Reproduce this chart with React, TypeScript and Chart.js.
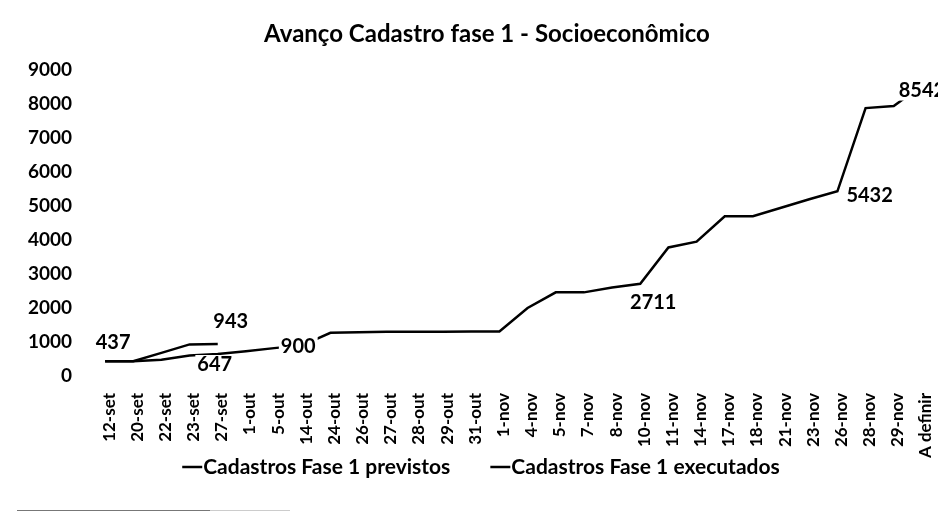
import React, { useEffect, useRef } from "react";
import { Chart, registerables } from "chart.js";

Chart.register(...registerables);

const categories = [
  "12-set", "20-set", "22-set", "23-set", "27-set", "1-out", "5-out", "14-out",
  "24-out", "26-out", "27-out", "28-out", "29-out", "31-out", "1-nov", "4-nov",
  "5-nov", "7-nov", "8-nov", "10-nov", "11-nov", "14-nov", "17-nov", "18-nov",
  "21-nov", "23-nov", "26-nov", "28-nov", "29-nov", "A definir",
];

const previstos = [
  437, 437, 480, 600, 647, 730, 820, 900, 1270, 1290, 1300, 1300, 1300, 1310,
  1310, 2000, 2460, 2460, 2600, 2711, 3780, 3950, 4700, 4700, 4950, 5200, 5432,
  7880, 7940, 8542,
];

const executados = [437, 437, 680, 930, 943];

const yTicks = [0, 1000, 2000, 3000, 4000, 5000, 6000, 7000, 8000, 9000];

const seriesNames = ["Cadastros Fase 1 previstos", "Cadastros Fase 1 executados"];
const chartTitle = "Avanço Cadastro fase 1 - Socioeconômico";

// which points carry a data label (dataset, index, placement)
const labelSpecs = [
  { ds: 0, i: 0, pos: "above", dx: 8, dy: -19 },
  { ds: 1, i: 4, pos: "above", dx: 13, dy: -22 },
  { ds: 0, i: 4, pos: "below", dx: -3, dy: 11 },
  { ds: 0, i: 7, pos: "center", dx: -4, dy: 1 },
  { ds: 0, i: 19, pos: "below", dx: 13, dy: 19 },
  { ds: 0, i: 26, pos: "right", dx: 9, dy: 4 },
  { ds: 0, i: 29, pos: "center", dx: 0, dy: 5 },
];

const FONT = "Lato, 'Open Sans', sans-serif";

export default function App() {
  const ref = useRef<HTMLCanvasElement | null>(null);

  useEffect(() => {
    document.body.style.margin = "0";
    const canvas = ref.current;
    if (!canvas) return;

    const overlay = {
      id: "overlay",
      afterDatasetsDraw(chart: any) {
        const ctx = chart.ctx;
        ctx.save();
        ctx.font = `bold 20px ${FONT}`;
        ctx.textBaseline = "middle";
        ctx.textAlign = "center";
        for (const s of labelSpecs) {
          const el = chart.getDatasetMeta(s.ds).data[s.i];
          if (!el) continue;
          const val = chart.data.datasets[s.ds].data[s.i];
          const txt = String(val);
          const w = ctx.measureText(txt).width;
          let x = el.x + s.dx;
          const y = el.y + s.dy;
          if (s.pos === "right") x = el.x + s.dx + w / 2;
          ctx.fillStyle = "#ffffff";
          ctx.fillRect(x - w / 2 - 2, y - 10, w + 4, 20);
          ctx.fillStyle = "#000000";
          ctx.fillText(txt, x, y);
        }
        ctx.restore();
      },
      afterDraw(chart: any) {
        const ctx = chart.ctx;
        ctx.save();
        ctx.font = `bold 24px ${FONT}`;
        ctx.fillStyle = "#000";
        ctx.textAlign = "center";
        ctx.textBaseline = "middle";
        ctx.fillText(chartTitle, chart.width / 2 + 18, 34);
        ctx.font = `bold 21px ${FONT}`;
        ctx.textAlign = "left";
        const lineLen = 20;
        const gap = 40;
        const widths = seriesNames.map((n) => ctx.measureText(n).width + lineLen + 1);
        const total = widths[0] + widths[1] + gap;
        let x = chart.width / 2 + 12 - total / 2;
        const y = 467;
        seriesNames.forEach((n, k) => {
          ctx.strokeStyle = "#000";
          ctx.lineWidth = 2.5;
          ctx.beginPath();
          ctx.moveTo(x, y);
          ctx.lineTo(x + lineLen, y);
          ctx.stroke();
          ctx.fillText(n, x + lineLen + 1, y);
          x += widths[k] + gap;
        });
        ctx.restore();
      },
    };

    const chart = new Chart(canvas, {
      type: "line",
      data: {
        labels: categories,
        datasets: [
          {
            label: seriesNames[0],
            data: previstos,
            borderColor: "#000",
            borderWidth: 2.5,
            pointRadius: 0,
            tension: 0,
          },
          {
            label: seriesNames[1],
            data: executados,
            borderColor: "#000",
            borderWidth: 2.5,
            pointRadius: 0,
            tension: 0,
          },
        ],
      },
      options: {
        responsive: false,
        animation: false,
        devicePixelRatio: 1,
        layout: { padding: { top: 70, right: 2, left: 0, bottom: 0 } },
        plugins: {
          legend: { display: false },
          title: { display: false },
          tooltip: { enabled: false },
        },
        scales: {
          x: {
            type: "category",
            offset: true,
            grid: { display: false, drawTicks: false },
            border: { display: false },
            ticks: {
              autoSkip: false,
              maxRotation: 90,
              minRotation: 90,
              padding: 17,
              labelOffset: 4,
              color: "#000",
              font: { family: FONT, size: 17, weight: "bold" },
            },
            afterFit(scale: any) {
              scale.height = 142;
              scale.paddingLeft = 0;
              scale.paddingRight = 0;
            },
          },
          y: {
            min: 0,
            max: 9000,
            grid: { display: false, drawTicks: false },
            border: { display: false },
            afterBuildTicks(scale: any) {
              scale.ticks = yTicks.map((v) => ({ value: v }));
            },
            ticks: {
              padding: 19,
              color: "#000",
              font: { family: FONT, size: 19, weight: "bold" },
              callback: (v: any) => String(v),
            },
            afterFit(scale: any) {
              scale.width = 91;
            },
          },
        },
      },
      plugins: [overlay],
    });

    return () => {
      chart.destroy();
    };
  }, []);

  return (
    <div style={{ position: "relative", width: 938, height: 518, background: "#fff", overflow: "hidden" }}>
      <canvas ref={ref} width={938} height={518} style={{ width: 938, height: 518, display: "block" }} />
      <div style={{ position: "absolute", left: 17, top: 510, width: 193, height: 1, background: "#777" }} />
      <div style={{ position: "absolute", left: 210, top: 510, width: 80, height: 1, background: "#ccc" }} />
    </div>
  );
}
